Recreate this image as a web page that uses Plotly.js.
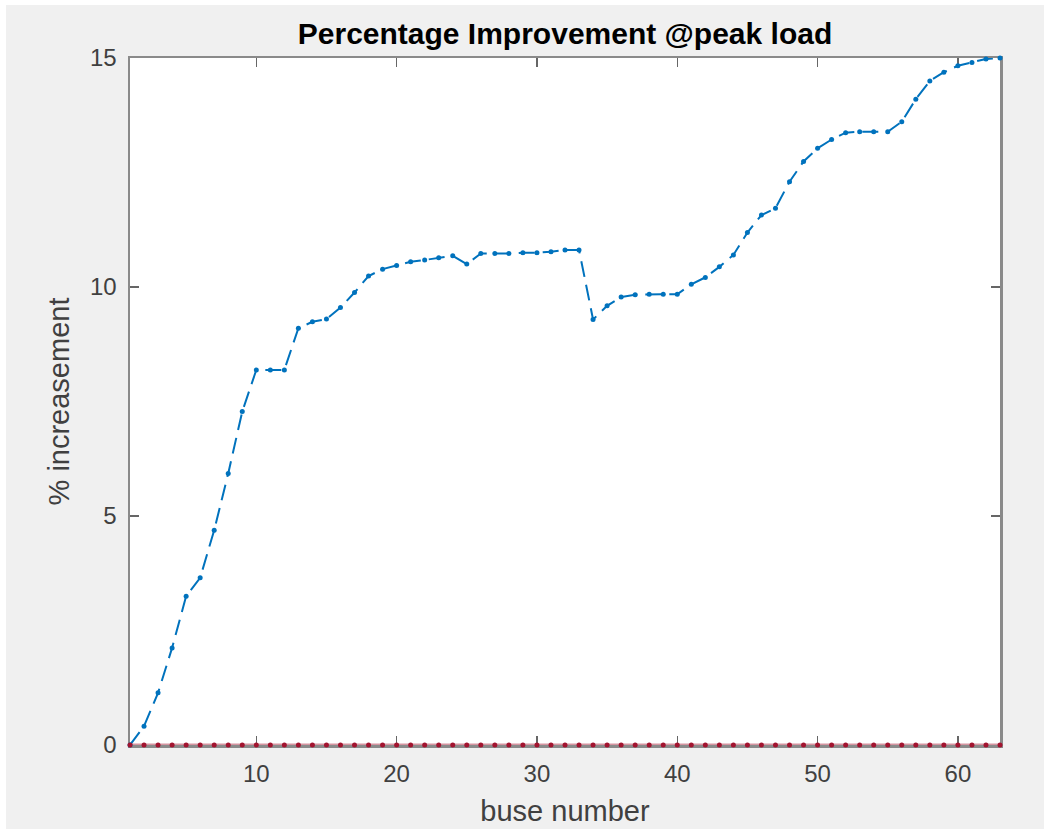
<!DOCTYPE html>
<html>
<head>
<meta charset="utf-8">
<script src="https://cdn.plot.ly/plotly-3.0.1.min.js"></script>
<style>
html, body { margin: 0; padding: 0; background: #ffffff; width: 1044px; height: 829px; overflow: hidden; }
#chart { position: absolute; left: 6px; top: 5px; width: 1038px; height: 824px; }
</style>
</head>
<body>
<div id="chart"></div>
<script>
// bus numbers 1..63
const busNumbers = [1,2,3,4,5,6,7,8,9,10,11,12,13,14,15,16,17,18,19,20,21,22,23,24,25,26,27,28,29,30,31,32,33,34,35,36,37,38,39,40,41,42,43,44,45,46,47,48,49,50,51,52,53,54,55,56,57,58,59,60,61,62,63];
// % improvement at peak load
const improvement = [0, 0.41, 1.14, 2.12, 3.25, 3.65, 4.69, 5.93, 7.28, 8.19,
  8.19, 8.19, 9.10, 9.24, 9.30, 9.55, 9.88, 10.24, 10.39, 10.47,
  10.55, 10.59, 10.64, 10.68, 10.50, 10.73, 10.73, 10.73, 10.75, 10.75,
  10.77, 10.81, 10.81, 9.29, 9.59, 9.78, 9.83, 9.84, 9.84, 9.84,
  10.06, 10.21, 10.44, 10.70, 11.19, 11.57, 11.72, 12.30, 12.74, 13.03,
  13.22, 13.37, 13.39, 13.39, 13.39, 13.61, 14.10, 14.50, 14.69, 14.83,
  14.90, 14.98, 15.00];
// baseline series (all zero)
const baseline = [0,0,0,0,0,0,0,0,0,0,0,0,0,0,0,0,0,0,0,0,0,0,0,0,0,0,0,0,0,0,0,0,0,0,0,0,0,0,0,0,0,0,0,0,0,0,0,0,0,0,0,0,0,0,0,0,0,0,0,0,0,0,0];
const xTicks = [10, 20, 30, 40, 50, 60];
const yTicks = [0, 5, 10, 15];

const font = "'Liberation Sans', Arial, Helvetica, sans-serif";
const axisGrey = '#8a8a8a';

const traces = [
  {
    x: busNumbers, y: improvement, type: 'scatter', mode: 'lines+markers',
    line: { color: '#0072BD', width: 2, dash: '16px,8px' },
    marker: { color: '#0072BD', size: 5 },
    cliponaxis: false, showlegend: false
  },
  {
    x: busNumbers, y: baseline, type: 'scatter', mode: 'lines+markers',
    line: { color: 'rgba(162,20,47,0.45)', width: 3 },
    marker: { color: '#A2142F', size: 5 },
    cliponaxis: false, showlegend: false
  }
];

const layout = {
  width: 1038, height: 824,
  paper_bgcolor: '#f0f0f0', plot_bgcolor: '#ffffff',
  margin: { l: 124, r: 44, t: 53, b: 84 },
  title: {
    text: '<b>Percentage Improvement @peak load</b>',
    font: { family: font, size: 30, color: '#000000' },
    x: 0.5, xref: 'paper', xanchor: 'center',
    y: 1 - 28 / 824, yanchor: 'middle'
  },
  xaxis: {
    range: [1, 63], tickvals: xTicks, ticktext: xTicks.map(String),
    showgrid: false, zeroline: false, layer: 'below traces',
    showline: true, linecolor: axisGrey, linewidth: 2.5, mirror: 'ticks',
    ticks: 'inside', ticklen: 9, tickwidth: 1.5, tickcolor: '#666',
    ticklabelstandoff: 6,
    tickfont: { family: font, size: 24, color: '#404040' },
    title: { text: 'buse number', font: { family: font, size: 29, color: '#404040' }, standoff: 15 }
  },
  yaxis: {
    range: [0, 15], tickvals: yTicks, ticktext: yTicks.map(String),
    showgrid: false, zeroline: false, layer: 'below traces',
    showline: true, linecolor: axisGrey, linewidth: 2.5, mirror: 'ticks',
    ticks: 'inside', ticklen: 9, tickwidth: 1.5, tickcolor: '#666',
    ticklabelstandoff: 6,
    tickfont: { family: font, size: 24, color: '#404040' },
    title: { text: '% increasement', font: { family: font, size: 29, color: '#404040' }, standoff: 12 }
  }
};

Plotly.newPlot('chart', traces, layout, { displayModeBar: false, staticPlot: true });
</script>
</body>
</html>
